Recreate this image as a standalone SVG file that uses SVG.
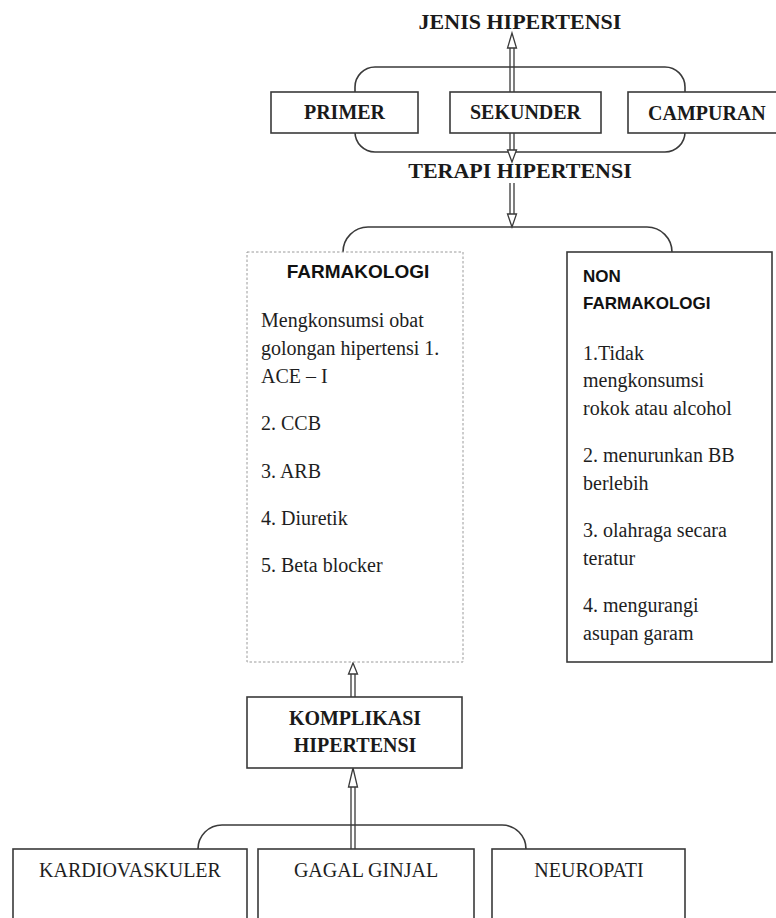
<svg xmlns="http://www.w3.org/2000/svg" width="776" height="918" viewBox="0 0 776 918">
<style>
  .bg{fill:#fff}
  .box{fill:#fff;stroke:#3a3a3a;stroke-width:1.6}
  .dbox{fill:#fff;stroke:#9a9a9a;stroke-width:1;stroke-dasharray:2.5,2}
  .br{fill:none;stroke:#3a3a3a;stroke-width:1.6}
  .sh{fill:none;stroke:#3a3a3a;stroke-width:1.3}
  .ah{fill:#fff;stroke:#3a3a3a;stroke-width:1.3;stroke-linejoin:miter}
  .tb{font-family:"Liberation Serif","Times New Roman",serif;font-weight:bold;fill:#1a1a1a}
  .tr{font-family:"Liberation Serif","Times New Roman",serif;font-size:20px;fill:#1e1e1e}
  .sb{font-family:"Liberation Sans",Arial,sans-serif;font-weight:bold;font-size:17px;fill:#111}
  .c{text-anchor:middle}
</style>
<rect class="bg" x="0" y="0" width="776" height="918"/>

<g id="connectors">
  <rect class="br" x="355" y="67" width="330" height="85" rx="20" ry="20"/>
  <path class="sh" d="M510,47 V152 M514,47 V152"/>
  <polygon class="ah" points="512,33 507.5,48 516.5,48"/>
  <polygon class="ah" points="512,162 507.5,150 516.5,150"/>
  <path class="sh" d="M510,183 V215 M514,183 V215"/>
  <polygon class="ah" points="512,227 507.5,214 516.5,214"/>
  <path class="br" d="M343,252 A25,25 0 0 1 368,227 H647 A25,25 0 0 1 672,252"/>
  <path class="sh" d="M351,673 V697 M355,673 V697"/>
  <polygon class="ah" points="353,663 348.5,674 357.5,674"/>
  <path class="br" d="M198,849 A24,24 0 0 1 222,825 H502 A24,24 0 0 1 526,849"/>
  <path class="sh" d="M351,786 V849 M355,786 V849"/>
  <polygon class="ah" points="353,768 348.5,787 357.5,787"/>
</g>

<g id="jenis">
  <text class="tb c" x="520" y="29" font-size="22">JENIS HIPERTENSI</text>
</g>
<g id="primer">
  <rect class="box" x="271" y="92" width="147" height="41"/>
  <text class="tb c" x="344.5" y="119" font-size="20">PRIMER</text>
</g>
<g id="sekunder">
  <rect class="box" x="450" y="92" width="151" height="41"/>
  <text class="tb c" x="525.5" y="119" font-size="20">SEKUNDER</text>
</g>
<g id="campuran">
  <rect class="box" x="628" y="92" width="160" height="41"/>
  <text class="tb" x="648" y="120" font-size="20">CAMPURAN</text>
</g>
<g id="terapi">
  <text class="tb c" x="520" y="178" font-size="22">TERAPI HIPERTENSI</text>
</g>

<g id="farmakologi">
  <rect class="dbox" x="247" y="252" width="216" height="410"/>
  <text class="sb c" x="358" y="278" font-size="19" style="font-size:19px">FARMAKOLOGI</text>
  <text class="tr" x="261" y="327">Mengkonsumsi obat</text>
  <text class="tr" x="261" y="355">golongan hipertensi 1.</text>
  <text class="tr" x="261" y="383">ACE – I</text>
  <text class="tr" x="261" y="430">2. CCB</text>
  <text class="tr" x="261" y="478">3. ARB</text>
  <text class="tr" x="261" y="525">4. Diuretik</text>
  <text class="tr" x="261" y="572">5. Beta blocker</text>
</g>

<g id="nonfarmakologi">
  <rect class="box" x="567" y="252" width="205" height="410"/>
  <text class="sb" x="583" y="282">NON</text>
  <text class="sb" x="583" y="309">FARMAKOLOGI</text>
  <text class="tr" x="583" y="360">1.Tidak</text>
  <text class="tr" x="583" y="387">mengkonsumsi</text>
  <text class="tr" x="583" y="415">rokok atau alcohol</text>
  <text class="tr" x="583" y="462">2. menurunkan BB</text>
  <text class="tr" x="583" y="490">berlebih</text>
  <text class="tr" x="583" y="537">3. olahraga secara</text>
  <text class="tr" x="583" y="565">teratur</text>
  <text class="tr" x="583" y="612">4. mengurangi</text>
  <text class="tr" x="583" y="640">asupan garam</text>
</g>

<g id="komplikasi">
  <rect class="box" x="247" y="697" width="215" height="71"/>
  <text class="tb c" x="355" y="725" font-size="20">KOMPLIKASI</text>
  <text class="tb c" x="355" y="752" font-size="20">HIPERTENSI</text>
</g>

<g id="kardiovaskuler">
  <rect class="box" x="13" y="849" width="234" height="80"/>
  <text class="tr c" x="130" y="877">KARDIOVASKULER</text>
</g>
<g id="gagalginjal">
  <rect class="box" x="258" y="849" width="216" height="80"/>
  <text class="tr c" x="366" y="877">GAGAL GINJAL</text>
</g>
<g id="neuropati">
  <rect class="box" x="492" y="849" width="193" height="80"/>
  <text class="tr c" x="589" y="877">NEUROPATI</text>
</g>
</svg>
